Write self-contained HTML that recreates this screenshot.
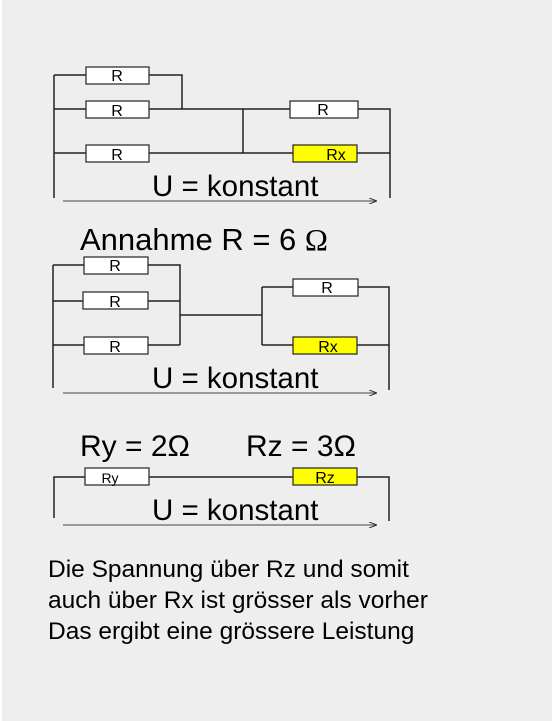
<!DOCTYPE html>
<html><head><meta charset="utf-8"><style>
html,body{margin:0;padding:0;background:#fff}
svg{display:block}
text{font-family:"Liberation Sans",Arial,sans-serif;fill:#000}
</style></head><body>
<svg width="554" height="721" viewBox="0 0 554 721" xmlns="http://www.w3.org/2000/svg">
<rect x="2" y="0" width="550" height="721" fill="#eeeeee"/>
<defs><marker id="a" markerWidth="8" markerHeight="6" refX="8" refY="3" orient="auto"><path d="M0,0 L8,3 L0,6" fill="none" stroke="#333" stroke-width="1"/></marker></defs>
<g stroke="#222" stroke-width="1.5" fill="none">
<path d="M54,75 V198 M54,75 H86 M149,75 H182 V109 M54,109 H86 M149,109 H290 M358,109 H390 V198 M54,153 H86 M149,153 H293 M357,153 H390 M243,109 V153"/>
<path d="M53,265 V388 M53,265 H84 M148,265 H180 V345 M53,301 H83 M148,301 H180 M53,345 H84 M148,345 H180 M180,315 H262 M262,287 V345 M262,287 H293 M358,287 H389 V390 M262,345 H293 M357,345 H389"/>
<path d="M54,518 V477 H85 M149,477 H293 M357,477 H389 V521"/>
</g>
<g stroke="#444" stroke-width="1" marker-end="url(#a)">
<line x1="63" y1="201" x2="377" y2="201"/>
<line x1="63" y1="393" x2="377" y2="393"/>
<line x1="63" y1="525" x2="377" y2="525"/>
</g>
<g stroke="#222" stroke-width="1.2">
<rect x="86" y="67" width="63" height="17" fill="#fff"/>
<rect x="86" y="101" width="63" height="17" fill="#fff"/>
<rect x="86" y="145" width="63" height="17" fill="#fff"/>
<rect x="290" y="101" width="68" height="17" fill="#fff"/>
<rect x="293" y="145" width="64" height="17" fill="#ffff00"/>
<rect x="84" y="257" width="64" height="17" fill="#fff"/>
<rect x="83" y="292" width="65" height="17" fill="#fff"/>
<rect x="84" y="337" width="64" height="17" fill="#fff"/>
<rect x="293" y="279" width="65" height="17" fill="#fff"/>
<rect x="293" y="337" width="64" height="17" fill="#ffff00"/>
<rect x="85" y="468" width="64" height="17" fill="#fff"/>
<rect x="293" y="468" width="64" height="17" fill="#ffff00"/>
</g>
<g font-size="16" text-anchor="middle">
<text x="117" y="81">R</text><text x="117" y="116">R</text><text x="117" y="160">R</text>
<text x="323" y="115">R</text><text x="336" y="160">Rx</text>
<text x="115" y="271">R</text><text x="115" y="307">R</text><text x="115" y="352">R</text>
<text x="327" y="293">R</text><text x="328" y="352">Rx</text>
<text x="110" y="483" font-size="14">Ry</text><text x="325" y="483">Rz</text>
</g>
<g font-size="29.5">
<text x="152" y="196">U = konstant</text>
<text x="152" y="388">U = konstant</text>
<text x="152" y="520">U = konstant</text>
<text x="80" y="250" font-size="31">Annahme R = 6 <tspan font-family="Liberation Serif">Ω</tspan></text>
<text x="80" y="456" font-size="30">Ry = 2Ω</text>
<text x="246" y="456" font-size="30">Rz = 3Ω</text>
</g>
<g font-size="24.5">
<text x="48" y="577">Die Spannung über Rz und somit</text>
<text x="48" y="608">auch über Rx ist grösser als vorher</text>
<text x="48" y="639">Das ergibt eine grössere Leistung</text>
</g>
</svg>
</body></html>
